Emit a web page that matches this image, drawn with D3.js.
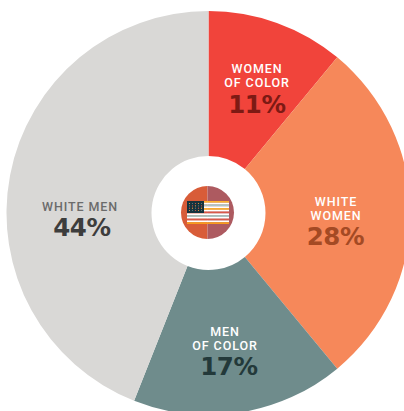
<!DOCTYPE html>
<html>
<head>
<meta charset="utf-8">
<script src="https://cdn.jsdelivr.net/npm/d3@7"></script>
<style>
  html, body { margin: 0; padding: 0; background: #fff; }
  svg { display: block; }
  text { text-anchor: middle; }
  .name { font-family: Roboto, sans-serif; font-size: 12.5px; font-weight: 500; letter-spacing: 0.9px; }
  .pct { font-family: "DejaVu Sans", sans-serif; font-size: 24.5px; font-weight: 700; letter-spacing: -0.3px; }
</style>
</head>
<body>
<svg id="app" width="404" height="411"></svg>
<script>
const groups = [`WOMEN OF COLOR`, `WHITE WOMEN`, `MEN OF COLOR`, `WHITE MEN`];
const shares = [11, 28, 17, 44];
const colors = [`#f1443b`, `#f6885a`, `#6f8c8c`, `#d9d8d6`];
const nameLines = [[`WOMEN`, `OF COLOR`], [`WHITE`, `WOMEN`], [`MEN`, `OF COLOR`], [`WHITE MEN`]];
const nameColors = [`#fff`, `#fff`, `#fff`, `#6b6b6b`];
const pctColors = [`#7d1a14`, `#a44a24`, `#23393a`, `#3d3d3d`];

// flag stripes, top to bottom
const stripes = [`#fdb12f`, `#fff`, `#a9c6c4`, `#fff`, `#fdb12f`, `#fff`, `#d9584a`, `#fff`, `#a9c6c4`, `#fff`, `#d9584a`, `#fff`, `#f79a1e`];
const starRows = [0, 1, 2, 3];
const starCols = [0, 1, 2, 3, 4];
const starTints = [`#f7a23a`, `#5f8585`, `#d9584a`];

const CX = 208.5, CY = 213, R = 202, HOLE = 57;

const svg = d3.select(`#app`);
const pieG = svg.append(`g`).attr(`transform`, `translate(${CX},${CY})`);

const pie = d3.pie().sort(null)(shares);
const arc = d3.arc().innerRadius(HOLE).outerRadius(R);

pieG.selectAll(`path`).data(pie).enter().append(`path`)
  .attr(`d`, arc)
  .attr(`fill`, (S, i) => colors[i])
  .attr(`aria-label`, (S, i) => groups[i]);

// label centre x and baseline of the first text line, then of the percentage
const labelX = [257, 336, 225, 80];
const labelY = [73, 205.5, 336, 211];
const pctX = [257, 335.5, 229, 82];
const pctY = [112.5, 244.5, 375, 236];

const labels = svg.selectAll(`g.lab`).data(groups).enter().append(`g`).attr(`class`, `lab`);

labels.each(function (g, i) {
  const G = d3.select(this);
  nameLines[i].forEach((line, n) => {
    G.append(`text`).attr(`class`, `name`)
      .attr(`x`, labelX[i]).attr(`y`, labelY[i] + n * 14)
      .attr(`fill`, nameColors[i]).text(line);
  });
  G.append(`text`).attr(`class`, `pct`)
    .attr(`x`, pctX[i]).attr(`y`, pctY[i])
    .attr(`fill`, pctColors[i]).text(shares[i] + `%`);
});

// flag badge
const FX = 207.5, FY = 212.5, FR = 26.5;
const badge = svg.append(`g`);
badge.append(`path`).attr(`d`, d3.arc().innerRadius(0).outerRadius(FR)({startAngle: Math.PI, endAngle: 2 * Math.PI}))
  .attr(`transform`, `translate(${FX},${FY})`).attr(`fill`, `#d85c38`);
badge.append(`path`).attr(`d`, d3.arc().innerRadius(0).outerRadius(FR)({startAngle: 0, endAngle: Math.PI}))
  .attr(`transform`, `translate(${FX},${FY})`).attr(`fill`, `#ad5a60`);

const fy = d3.scaleBand().domain(d3.range(stripes.length)).range([201, 224]);
const fxL = 187, fxR = 229;
badge.selectAll(`rect.s`).data(stripes).enter().append(`rect`).attr(`class`, `s`)
  .attr(`x`, fxL).attr(`width`, fxR - fxL).attr(`y`, (S, i) => fy(i)).attr(`height`, fy.bandwidth()).attr(`fill`, S => S);

const cantonW = 17, cantonH = 12;
badge.append(`rect`).attr(`x`, fxL).attr(`y`, 201).attr(`width`, cantonW).attr(`height`, cantonH).attr(`fill`, `#16323c`);
const sx = d3.scalePoint().domain(starCols).range([fxL + 2.5, fxL + cantonW - 2.5]);
const sy = d3.scalePoint().domain(starRows).range([203.5, 201 + cantonH - 2.5]);
starRows.forEach(r => starCols.forEach(c => {
  badge.append(`circle`).attr(`cx`, sx(c)).attr(`cy`, sy(r)).attr(`r`, 0.6).attr(`fill`, starTints[(r + c) % 3]);
}));
</script>
</body>
</html>
